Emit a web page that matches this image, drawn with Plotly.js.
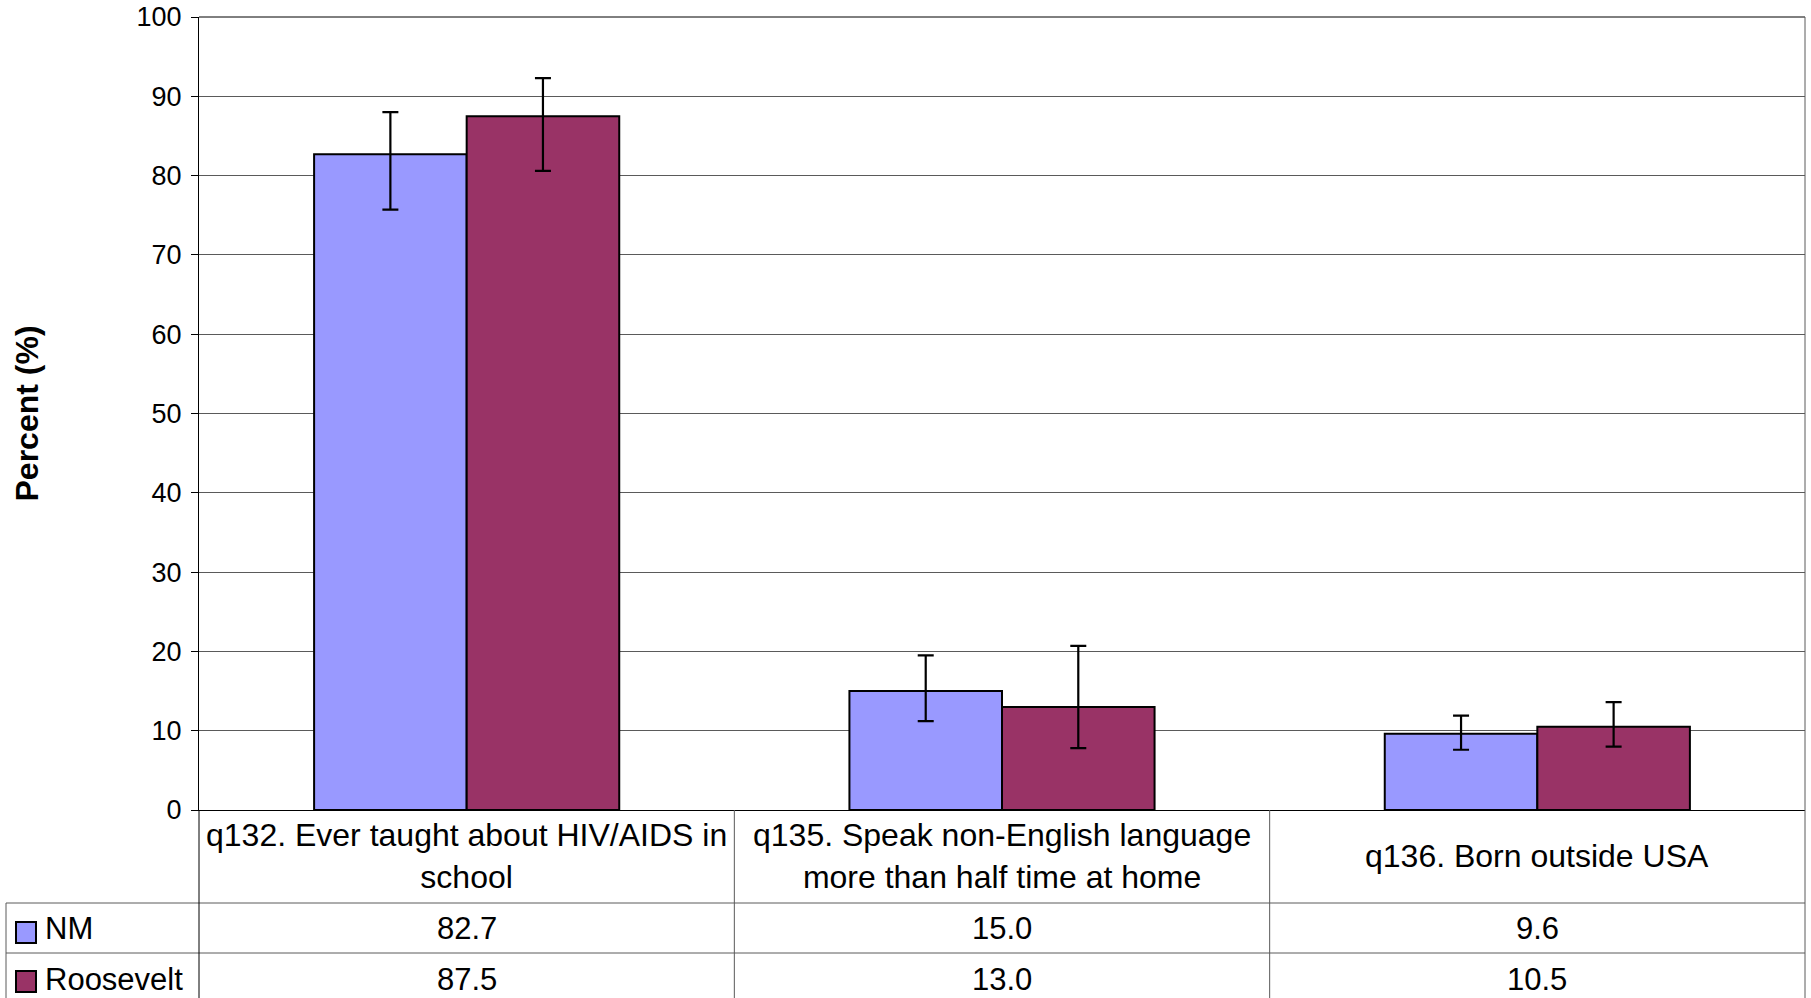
<!DOCTYPE html>
<html>
<head>
<meta charset="utf-8">
<script src="https://cdn.plot.ly/plotly-3.0.1.min.js"></script>
<style>
  html, body { margin: 0; padding: 0; background: #ffffff; }
  #chart { width: 1811px; height: 998px; }
</style>
</head>
<body>
<div id="chart"></div>
<script>
// ---- data ----
var categories = [
  "q132. Ever taught about HIV/AIDS in<br>school",
  "q135. Speak non-English language<br>more than half time at home",
  "q136. Born outside USA"
];
var seriesNames = ["NM", "Roosevelt"];
var seriesColors = ["#9999FF", "#993366"];
var nmValues = [82.7, 15.0, 9.6];
var rooseveltValues = [87.5, 13.0, 10.5];
// confidence limits (upper, lower)
var nmUpper = [88.0, 19.5, 11.9];
var nmLower = [75.7, 11.2, 7.6];
var rooseveltUpper = [92.3, 20.7, 13.6];
var rooseveltLower = [80.6, 7.8, 8.0];
var yTickValues = [0, 10, 20, 30, 40, 50, 60, 70, 80, 90, 100];
var yAxisTitle = "Percent (%)";

// ---- helpers ----
function diff(a, b) { return a.map(function (v, i) { return +(v - b[i]).toFixed(2); }); }

var FONT = "Liberation Sans, Arial, Helvetica, sans-serif";
var seriesValues = [nmValues, rooseveltValues];
var seriesUpper = [nmUpper, rooseveltUpper];
var seriesLower = [nmLower, rooseveltLower];

var traces = seriesNames.map(function (name, s) {
  return {
    type: "bar",
    name: name,
    x: categories,
    y: seriesValues[s],
    marker: { color: seriesColors[s], line: { color: "#000000", width: 2 } },
    error_y: {
      type: "data",
      symmetric: false,
      array: diff(seriesUpper[s], seriesValues[s]),
      arrayminus: diff(seriesValues[s], seriesLower[s]),
      color: "#000000",
      thickness: 2.2,
      width: 8
    },
    hoverinfo: "x+y+name"
  };
});

// pixel geometry of the plot area
var W = 1811, H = 998;
var L = 199, R = 1805, T = 17, B = 810;
var pw = R - L, ph = B - T;
function px(x) { return (x - L) / pw; }
function py(y) { return (B - y) / ph; }

var gridCol = "#5a5a5a";
var shapes = [];
function hline(y, x0, x1, col) {
  shapes.push({ type: "line", xref: "paper", yref: "paper", x0: px(x0), x1: px(x1), y0: py(y), y1: py(y),
    line: { color: col || gridCol, width: 1 } });
}
function vline(x, y0, y1, col) {
  shapes.push({ type: "line", xref: "paper", yref: "paper", x0: px(x), x1: px(x), y0: py(y0), y1: py(y1),
    line: { color: col || gridCol, width: 1 } });
}
// plot border top & right
hline(T, L, R, "#000000");
vline(R, T, H + 5);
// data table lines
var tableLeft = 6, rowTop = [903, 953];
rowTop.forEach(function (y) { hline(y, tableLeft, R); });
vline(tableLeft, rowTop[0], H + 5);
vline(L, B, H + 5, "#000000");
for (var c = 1; c < categories.length; c++) {
  vline(L + pw * c / categories.length, B, H + 5);
}

var annotations = [];
// header row (category labels)
categories.forEach(function (cat, i) {
  annotations.push({ xref: "x", yref: "paper", x: cat, y: py(856), xanchor: "center", yanchor: "middle",
    text: cat, showarrow: false, font: { family: FONT, size: 32, color: "#000000" } });
});
// value rows + legend keys
var rowCenters = [928, 979];
var keyBoxes = [[922, 943], [971, 992]];
seriesNames.forEach(function (name, s) {
  seriesValues[s].forEach(function (v, i) {
    annotations.push({ xref: "x", yref: "paper", x: categories[i], y: py(rowCenters[s]), xanchor: "center", yanchor: "middle",
      text: v.toFixed(1), showarrow: false, font: { family: FONT, size: 31, color: "#000000" } });
  });
  annotations.push({ xref: "paper", yref: "paper", x: px(43), y: py(rowCenters[s]), xanchor: "left", yanchor: "middle",
    text: name, showarrow: false, font: { family: FONT, size: 31, color: "#000000" } });
  shapes.push({ type: "rect", xref: "paper", yref: "paper", x0: px(16), x1: px(36), y0: py(keyBoxes[s][1]), y1: py(keyBoxes[s][0]),
    fillcolor: seriesColors[s], line: { color: "#000000", width: 2 } });
});

var layout = {
  width: W, height: H,
  margin: { l: L, r: W - R, t: T, b: H - B, pad: 0 },
  paper_bgcolor: "#ffffff",
  plot_bgcolor: "#ffffff",
  showlegend: false,
  barmode: "group",
  bargap: 0.43,
  bargroupgap: 0,
  font: { family: FONT, color: "#000000" },
  xaxis: {
    type: "category",
    showticklabels: false,
    ticks: "",
    showgrid: false,
    showline: true,
    linecolor: "#000000",
    linewidth: 1,
    zeroline: false,
    range: [-0.5, 2.5],
    fixedrange: true
  },
  yaxis: {
    range: [0, 100],
    tickvals: yTickValues,
    ticktext: yTickValues.map(String),
    ticks: "outside",
    ticklen: 7,
    tickwidth: 1,
    tickcolor: "#000000",
    ticklabelstandoff: 4,
    tickfont: { family: FONT, size: 27, color: "#000000" },
    showline: true,
    linecolor: "#000000",
    linewidth: 1,
    showgrid: true,
    gridcolor: gridCol,
    gridwidth: 1,
    zeroline: false,
    title: { text: yAxisTitle, standoff: 88, font: { family: FONT, size: 32, color: "#000000", weight: "bold" } },
    automargin: false,
    fixedrange: true
  },
  shapes: shapes,
  annotations: annotations
};

Plotly.newPlot("chart", traces, layout, { displayModeBar: false, staticPlot: true });
</script>
</body>
</html>
